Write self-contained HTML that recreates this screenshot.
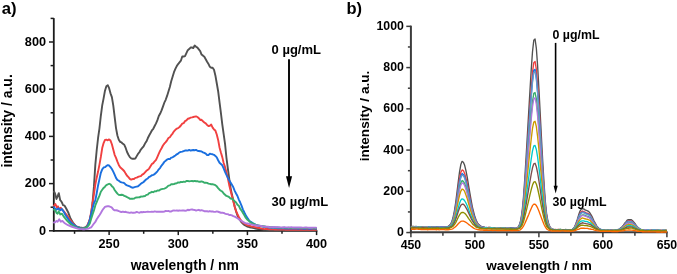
<!DOCTYPE html>
<html><head><meta charset="utf-8"><style>
html,body{margin:0;padding:0;background:#fff;}
body{width:677px;height:274px;overflow:hidden;}
svg{display:block;will-change:transform;}
</style></head><body>
<svg width="677" height="274" viewBox="0 0 677 274"><rect width="677" height="274" fill="#fff"/><g stroke="#1c1c1c" fill="none"><line x1="53.8" y1="18.10" x2="53.8" y2="231.70000000000002" stroke-width="1.8"/><line x1="52.9" y1="230.8" x2="317.32" y2="230.8" stroke-width="1.8"/><line x1="49.00" y1="230.80" x2="53.8" y2="230.80" stroke-width="1.5"/><line x1="50.60" y1="207.20" x2="53.8" y2="207.20" stroke-width="1.5"/><line x1="49.00" y1="183.60" x2="53.8" y2="183.60" stroke-width="1.5"/><line x1="50.60" y1="160.00" x2="53.8" y2="160.00" stroke-width="1.5"/><line x1="49.00" y1="136.40" x2="53.8" y2="136.40" stroke-width="1.5"/><line x1="50.60" y1="112.80" x2="53.8" y2="112.80" stroke-width="1.5"/><line x1="49.00" y1="89.20" x2="53.8" y2="89.20" stroke-width="1.5"/><line x1="50.60" y1="65.60" x2="53.8" y2="65.60" stroke-width="1.5"/><line x1="49.00" y1="42.00" x2="53.8" y2="42.00" stroke-width="1.5"/><line x1="50.60" y1="18.40" x2="53.8" y2="18.40" stroke-width="1.5"/><line x1="74.55" y1="230.8" x2="74.55" y2="233.80" stroke-width="1.5"/><line x1="109.12" y1="230.8" x2="109.12" y2="235.10" stroke-width="1.5"/><line x1="143.69" y1="230.8" x2="143.69" y2="233.80" stroke-width="1.5"/><line x1="178.27" y1="230.8" x2="178.27" y2="235.10" stroke-width="1.5"/><line x1="212.84" y1="230.8" x2="212.84" y2="233.80" stroke-width="1.5"/><line x1="247.42" y1="230.8" x2="247.42" y2="235.10" stroke-width="1.5"/><line x1="282.00" y1="230.8" x2="282.00" y2="233.80" stroke-width="1.5"/><line x1="316.57" y1="230.8" x2="316.57" y2="235.10" stroke-width="1.5"/></g><g stroke="#3c3c3c" fill="none"><line x1="410.9" y1="25.65" x2="410.9" y2="233.3" stroke-width="2"/><line x1="409.9" y1="232.3" x2="667.65" y2="232.3" stroke-width="2"/><line x1="406.30" y1="232.55" x2="410.9" y2="232.55" stroke-width="1.5"/><line x1="407.90" y1="211.93" x2="410.9" y2="211.93" stroke-width="1.5"/><line x1="406.30" y1="191.31" x2="410.9" y2="191.31" stroke-width="1.5"/><line x1="407.90" y1="170.69" x2="410.9" y2="170.69" stroke-width="1.5"/><line x1="406.30" y1="150.07" x2="410.9" y2="150.07" stroke-width="1.5"/><line x1="407.90" y1="129.45" x2="410.9" y2="129.45" stroke-width="1.5"/><line x1="406.30" y1="108.83" x2="410.9" y2="108.83" stroke-width="1.5"/><line x1="407.90" y1="88.21" x2="410.9" y2="88.21" stroke-width="1.5"/><line x1="406.30" y1="67.59" x2="410.9" y2="67.59" stroke-width="1.5"/><line x1="407.90" y1="46.97" x2="410.9" y2="46.97" stroke-width="1.5"/><line x1="406.30" y1="26.35" x2="410.9" y2="26.35" stroke-width="1.5"/><line x1="410.90" y1="232.3" x2="410.90" y2="237.30" stroke-width="1.5"/><line x1="442.90" y1="232.3" x2="442.90" y2="235.70" stroke-width="1.5"/><line x1="474.90" y1="232.3" x2="474.90" y2="237.30" stroke-width="1.5"/><line x1="506.90" y1="232.3" x2="506.90" y2="235.70" stroke-width="1.5"/><line x1="538.90" y1="232.3" x2="538.90" y2="237.30" stroke-width="1.5"/><line x1="570.90" y1="232.3" x2="570.90" y2="235.70" stroke-width="1.5"/><line x1="602.90" y1="232.3" x2="602.90" y2="237.30" stroke-width="1.5"/><line x1="634.90" y1="232.3" x2="634.90" y2="235.70" stroke-width="1.5"/><line x1="666.90" y1="232.3" x2="666.90" y2="237.30" stroke-width="1.5"/></g><g fill="none" stroke-width="1.9" stroke-linejoin="round" stroke-linecap="round"><polyline stroke="#515151" points="54.00,191.50 55.00,193.50 56.50,199.00 58.80,193.20 60.20,200.20 61.30,201.30 62.40,203.50 63.00,205.20 64.60,205.70 66.20,208.50 68.40,212.80 70.50,218.50 72.90,222.50 76.00,226.35 77.38,226.98 78.76,227.22 80.14,227.75 81.52,227.78 82.90,227.84 84.28,227.77 85.66,227.06 87.04,226.07 88.42,223.64 89.80,219.78 91.18,214.11 92.56,202.71 93.94,186.66 95.32,164.90 96.70,150.28 98.08,137.99 99.46,128.35 100.84,115.76 102.22,105.41 103.60,98.41 104.98,90.69 106.36,86.23 107.74,85.17 109.12,88.17 110.50,93.33 111.88,97.17 113.26,105.32 114.64,116.96 116.02,128.12 117.40,135.52 118.78,139.78 120.16,141.86 121.54,142.48 122.92,143.83 124.30,144.80 125.68,147.93 127.06,152.03 128.44,154.75 129.82,157.13 131.20,158.39 132.58,158.80 133.96,158.70 135.34,158.54 136.72,156.12 138.10,153.78 139.48,152.04 140.86,149.58 142.24,147.97 143.62,146.30 145.00,143.57 146.38,141.56 147.76,138.26 149.14,135.49 150.52,133.06 151.90,130.44 153.28,128.77 154.66,125.98 156.04,123.38 157.42,120.17 158.80,116.06 160.18,113.55 161.56,110.39 162.94,106.56 164.32,102.70 165.70,99.79 167.08,95.94 168.46,91.42 169.84,86.93 171.22,81.17 172.60,76.78 173.98,72.23 175.36,68.94 176.74,66.11 178.12,64.07 179.50,62.38 180.88,60.69 182.26,56.47 183.64,56.53 185.02,56.04 186.40,53.14 187.78,50.16 189.16,49.03 190.54,47.57 191.92,47.49 193.30,47.98 194.68,45.55 196.06,46.76 197.44,47.63 198.82,49.37 200.20,51.06 201.58,54.58 202.96,55.63 204.34,56.81 205.72,59.28 207.10,61.74 208.48,63.96 209.86,66.81 211.24,67.80 212.62,67.73 214.00,69.81 215.38,75.43 216.76,83.25 218.14,91.22 219.52,102.15 220.90,112.76 222.28,124.29 223.66,134.23 225.04,143.80 226.42,157.52 227.80,168.17 229.18,178.47 230.56,187.83 231.94,194.58 233.32,200.40 234.70,206.55 236.08,211.34 237.46,215.54 238.84,218.38 240.22,220.48 241.60,222.43 242.98,223.83 244.36,224.89 245.74,225.77 247.12,226.49 248.50,226.85 249.88,227.24 251.26,227.66 252.64,227.81 254.02,228.15 255.40,228.50 256.78,228.86 258.16,229.03 259.54,229.07 260.92,229.40 262.30,229.44 263.68,229.71 265.06,229.78 266.44,229.93 267.82,229.96 269.20,229.98 270.58,229.96 271.96,230.00 273.34,230.07 274.72,230.11 276.10,230.14 277.48,230.17 278.86,230.26 280.24,230.25 281.62,230.16 283.00,230.18 284.38,230.34 285.76,230.28 287.14,230.23 288.52,230.25 289.90,230.34 291.28,230.25 292.66,230.31 294.04,230.38 295.42,230.36 296.80,230.26 298.18,230.30 299.56,230.32 300.94,230.36 302.32,230.24 303.70,230.22 305.08,230.23 306.46,230.30 307.84,230.32 309.22,230.31 310.60,230.27 311.98,230.38 313.36,230.31 314.74,230.28 316.12,230.31"/><polyline stroke="#f14040" points="54.00,205.80 55.30,204.00 56.90,207.40 58.00,206.30 58.80,209.00 60.80,207.80 62.00,209.50 63.60,211.00 66.40,214.50 69.70,219.30 72.90,223.30 76.00,226.38 77.38,226.92 78.76,227.67 80.14,228.19 81.52,228.22 82.90,228.23 84.28,228.09 85.66,227.56 87.04,226.35 88.42,222.94 89.80,218.97 91.18,212.26 92.56,203.20 93.94,194.20 95.32,184.52 96.70,177.67 98.08,171.58 99.46,164.63 100.84,156.94 102.22,148.06 103.60,143.01 104.98,139.89 106.36,139.74 107.74,140.31 109.12,139.40 110.50,140.56 111.88,144.22 113.26,149.61 114.64,154.78 116.02,157.88 117.40,161.66 118.78,164.94 120.16,167.27 121.54,168.48 122.92,169.77 124.30,171.26 125.68,173.63 127.06,175.73 128.44,177.13 129.82,178.84 131.20,179.61 132.58,179.02 133.96,179.04 135.34,177.89 136.72,177.59 138.10,176.88 139.48,176.34 140.86,176.16 142.24,174.68 143.62,173.85 145.00,172.30 146.38,170.76 147.76,169.93 149.14,168.57 150.52,166.25 151.90,164.10 153.28,163.12 154.66,161.28 156.04,159.80 157.42,156.78 158.80,153.68 160.18,150.61 161.56,148.24 162.94,145.49 164.32,143.68 165.70,142.19 167.08,140.35 168.46,138.06 169.84,137.19 171.22,135.22 172.60,133.57 173.98,131.34 175.36,129.82 176.74,128.66 178.12,128.14 179.50,126.99 180.88,125.49 182.26,123.70 183.64,123.16 185.02,121.13 186.40,120.43 187.78,118.77 189.16,118.46 190.54,117.65 191.92,117.41 193.30,117.02 194.68,116.58 196.06,116.38 197.44,117.01 198.82,118.14 200.20,119.95 201.58,119.80 202.96,121.22 204.34,122.51 205.72,123.41 207.10,124.97 208.48,126.09 209.86,125.77 211.24,124.57 212.62,127.59 214.00,129.41 215.38,130.57 216.76,134.51 218.14,139.90 219.52,147.43 220.90,152.55 222.28,157.12 223.66,162.95 225.04,167.15 226.42,172.21 227.80,178.05 229.18,184.91 230.56,190.42 231.94,195.92 233.32,201.35 234.70,207.04 236.08,211.16 237.46,214.04 238.84,216.99 240.22,219.20 241.60,221.12 242.98,222.61 244.36,223.50 245.74,224.31 247.12,225.06 248.50,225.60 249.88,225.94 251.26,226.48 252.64,226.64 254.02,226.87 255.40,227.13 256.78,227.48 258.16,227.75 259.54,228.04 260.92,228.34 262.30,228.61 263.68,228.92 265.06,229.07 266.44,228.93 267.82,229.05 269.20,229.21 270.58,229.19 271.96,229.41 273.34,229.35 274.72,229.53 276.10,229.55 277.48,229.61 278.86,229.48 280.24,229.55 281.62,229.67 283.00,229.58 284.38,229.60 285.76,229.69 287.14,229.76 288.52,229.68 289.90,229.71 291.28,229.71 292.66,229.78 294.04,229.83 295.42,229.74 296.80,229.87 298.18,229.79 299.56,229.82 300.94,229.76 302.32,229.82 303.70,229.89 305.08,229.79 306.46,229.74 307.84,229.79 309.22,229.79 310.60,229.80 311.98,229.80 313.36,229.71 314.74,229.74 316.12,229.79"/><polyline stroke="#1a6fdf" points="54.00,207.30 56.40,209.80 58.60,208.30 60.20,210.30 61.90,209.00 64.00,212.30 65.60,215.30 68.90,220.10 72.10,223.60 76.00,226.44 77.38,227.12 78.76,227.60 80.14,228.21 81.52,228.37 82.90,228.44 84.28,228.22 85.66,227.79 87.04,226.90 88.42,223.97 89.80,219.74 91.18,213.83 92.56,208.20 93.94,203.23 95.32,200.38 96.70,193.22 98.08,185.43 99.46,179.12 100.84,172.78 102.22,169.32 103.60,167.53 104.98,167.16 106.36,166.01 107.74,165.09 109.12,165.53 110.50,167.20 111.88,169.01 113.26,171.59 114.64,174.65 116.02,177.89 117.40,179.99 118.78,180.66 120.16,181.76 121.54,182.37 122.92,182.59 124.30,183.12 125.68,184.58 127.06,185.31 128.44,185.87 129.82,186.41 131.20,187.24 132.58,187.72 133.96,187.32 135.34,186.95 136.72,186.58 138.10,186.22 139.48,185.11 140.86,183.81 142.24,182.83 143.62,181.98 145.00,180.49 146.38,179.28 147.76,178.49 149.14,176.90 150.52,176.33 151.90,175.26 153.28,174.79 154.66,174.06 156.04,172.74 157.42,171.31 158.80,169.32 160.18,167.85 161.56,165.62 162.94,163.89 164.32,161.90 165.70,160.72 167.08,159.53 168.46,158.99 169.84,159.12 171.22,157.63 172.60,157.34 173.98,156.36 175.36,155.51 176.74,154.33 178.12,153.56 179.50,152.39 180.88,151.94 182.26,151.61 183.64,151.08 185.02,150.56 186.40,150.35 187.78,150.57 189.16,149.94 190.54,150.67 191.92,150.26 193.30,149.99 194.68,150.21 196.06,149.85 197.44,150.77 198.82,151.00 200.20,151.20 201.58,151.43 202.96,152.36 204.34,152.94 205.72,153.68 207.10,155.03 208.48,155.10 209.86,153.60 211.24,154.08 212.62,154.31 214.00,154.79 215.38,155.91 216.76,157.31 218.14,160.24 219.52,162.78 220.90,164.05 222.28,165.31 223.66,168.34 225.04,171.82 226.42,174.80 227.80,177.57 229.18,180.22 230.56,182.41 231.94,184.84 233.32,187.21 234.70,190.93 236.08,193.54 237.46,195.99 238.84,199.55 240.22,202.48 241.60,205.96 242.98,209.56 244.36,212.47 245.74,215.22 247.12,217.39 248.50,219.50 249.88,221.22 251.26,222.06 252.64,222.95 254.02,223.75 255.40,224.47 256.78,225.26 258.16,225.55 259.54,225.97 260.92,226.07 262.30,226.38 263.68,226.79 265.06,227.06 266.44,227.08 267.82,227.19 269.20,227.59 270.58,227.58 271.96,227.80 273.34,227.74 274.72,227.98 276.10,228.11 277.48,228.18 278.86,228.18 280.24,228.36 281.62,228.24 283.00,228.30 284.38,228.35 285.76,228.48 287.14,228.32 288.52,228.52 289.90,228.52 291.28,228.58 292.66,228.46 294.04,228.44 295.42,228.47 296.80,228.63 298.18,228.68 299.56,228.64 300.94,228.60 302.32,228.56 303.70,228.70 305.08,228.72 306.46,228.54 307.84,228.58 309.22,228.73 310.60,228.75 311.98,228.63 313.36,228.63 314.74,228.67 316.12,228.71"/><polyline stroke="#37ad6b" points="54.00,209.70 55.00,209.90 56.50,212.90 57.60,213.70 58.70,211.30 60.30,214.50 62.00,213.70 64.00,216.90 67.20,220.90 70.50,224.10 74.50,226.50 76.00,227.36 77.38,227.91 78.76,228.39 80.14,228.47 81.52,228.60 82.90,228.40 84.28,228.38 85.66,227.92 87.04,227.15 88.42,225.63 89.80,223.51 91.18,218.83 92.56,214.42 93.94,210.43 95.32,205.45 96.70,202.20 98.08,198.76 99.46,195.65 100.84,191.71 102.22,189.79 103.60,187.92 104.98,186.70 106.36,185.02 107.74,184.41 109.12,183.76 110.50,184.40 111.88,186.19 113.26,187.40 114.64,189.98 116.02,191.81 117.40,193.62 118.78,194.87 120.16,194.94 121.54,194.73 122.92,195.02 124.30,195.89 125.68,196.46 127.06,197.19 128.44,197.76 129.82,198.86 131.20,198.61 132.58,198.76 133.96,198.65 135.34,197.66 136.72,197.54 138.10,197.39 139.48,197.31 140.86,196.56 142.24,196.61 143.62,196.30 145.00,196.09 146.38,194.90 147.76,194.56 149.14,193.11 150.52,192.62 151.90,191.82 153.28,192.19 154.66,191.28 156.04,191.35 157.42,190.51 158.80,190.66 160.18,189.72 161.56,189.19 162.94,188.90 164.32,188.65 165.70,188.00 167.08,186.92 168.46,185.57 169.84,185.36 171.22,184.20 172.60,184.22 173.98,184.13 175.36,183.44 176.74,183.27 178.12,182.40 179.50,182.63 180.88,181.89 182.26,182.14 183.64,181.65 185.02,181.92 186.40,180.96 187.78,180.89 189.16,181.39 190.54,181.09 191.92,181.04 193.30,181.22 194.68,180.84 196.06,181.28 197.44,181.08 198.82,181.77 200.20,181.71 201.58,181.36 202.96,181.84 204.34,182.74 205.72,182.58 207.10,182.86 208.48,183.61 209.86,183.94 211.24,184.29 212.62,184.30 214.00,184.57 215.38,185.20 216.76,186.30 218.14,188.11 219.52,189.65 220.90,190.77 222.28,191.56 223.66,193.53 225.04,194.73 226.42,195.93 227.80,196.45 229.18,197.11 230.56,198.55 231.94,198.71 233.32,199.81 234.70,201.20 236.08,202.40 237.46,204.66 238.84,205.83 240.22,208.80 241.60,210.59 242.98,213.08 244.36,215.28 245.74,217.65 247.12,219.50 248.50,220.56 249.88,221.76 251.26,222.98 252.64,223.40 254.02,224.23 255.40,224.62 256.78,225.10 258.16,225.39 259.54,225.62 260.92,226.13 262.30,226.31 263.68,226.27 265.06,226.48 266.44,226.83 267.82,226.91 269.20,227.04 270.58,227.23 271.96,227.19 273.34,227.43 274.72,227.45 276.10,227.49 277.48,227.47 278.86,227.61 280.24,227.77 281.62,227.86 283.00,227.63 284.38,227.67 285.76,227.85 287.14,227.90 288.52,227.72 289.90,227.94 291.28,227.94 292.66,227.94 294.04,227.87 295.42,227.92 296.80,227.92 298.18,228.06 299.56,227.95 300.94,227.96 302.32,228.13 303.70,228.13 305.08,228.15 306.46,228.12 307.84,227.94 309.22,227.95 310.60,228.08 311.98,228.16 313.36,228.18 314.74,228.13 316.12,228.22"/><polyline stroke="#b177de" points="54.00,222.50 55.00,222.30 56.50,220.90 57.60,221.70 59.20,219.30 60.80,221.70 62.40,220.90 64.80,223.30 68.00,225.20 71.30,226.50 75.30,227.80 76.00,227.96 77.38,228.56 78.76,228.86 80.14,229.16 81.52,229.15 82.90,229.26 84.28,229.32 85.66,229.10 87.04,228.87 88.42,228.54 89.80,227.91 91.18,227.34 92.56,225.53 93.94,223.54 95.32,221.94 96.70,219.27 98.08,217.15 99.46,215.18 100.84,213.01 102.22,210.59 103.60,208.51 104.98,206.95 106.36,206.45 107.74,206.16 109.12,206.28 110.50,206.78 111.88,207.62 113.26,209.43 114.64,210.38 116.02,210.24 117.40,210.50 118.78,211.02 120.16,211.79 121.54,212.02 122.92,211.52 124.30,212.14 125.68,211.78 127.06,212.34 128.44,212.55 129.82,212.90 131.20,212.36 132.58,212.80 133.96,212.74 135.34,212.67 136.72,211.92 138.10,212.35 139.48,212.72 140.86,212.06 142.24,212.26 143.62,211.96 145.00,212.08 146.38,211.84 147.76,211.66 149.14,211.92 150.52,211.91 151.90,211.62 153.28,211.82 154.66,211.38 156.04,211.68 157.42,211.60 158.80,211.68 160.18,211.76 161.56,211.80 162.94,211.72 164.32,211.57 165.70,210.86 167.08,211.16 168.46,210.98 169.84,211.53 171.22,211.55 172.60,210.64 173.98,210.52 175.36,210.58 176.74,210.36 178.12,210.77 179.50,210.33 180.88,210.57 182.26,210.41 183.64,210.44 185.02,210.70 186.40,210.64 187.78,209.74 189.16,210.23 190.54,209.67 191.92,209.48 193.30,209.78 194.68,209.99 196.06,210.54 197.44,210.10 198.82,209.81 200.20,210.65 201.58,210.10 202.96,210.58 204.34,211.18 205.72,211.16 207.10,211.24 208.48,211.65 209.86,211.07 211.24,211.56 212.62,211.42 214.00,211.92 215.38,211.89 216.76,211.44 218.14,211.76 219.52,212.26 220.90,212.73 222.28,212.68 223.66,212.95 225.04,213.65 226.42,214.12 227.80,214.14 229.18,214.97 230.56,215.03 231.94,215.31 233.32,216.08 234.70,216.62 236.08,217.44 237.46,218.32 238.84,219.17 240.22,220.21 241.60,221.05 242.98,221.89 244.36,222.60 245.74,223.35 247.12,223.45 248.50,223.70 249.88,224.10 251.26,224.42 252.64,224.79 254.02,225.20 255.40,225.17 256.78,225.49 258.16,225.78 259.54,225.76 260.92,225.93 262.30,226.23 263.68,226.42 265.06,226.77 266.44,226.66 267.82,226.76 269.20,227.04 270.58,227.11 271.96,227.09 273.34,227.22 274.72,227.01 276.10,227.32 277.48,227.24 278.86,227.21 280.24,227.40 281.62,227.36 283.00,227.47 284.38,227.23 285.76,227.38 287.14,227.36 288.52,227.43 289.90,227.33 291.28,227.28 292.66,227.44 294.04,227.40 295.42,227.56 296.80,227.46 298.18,227.46 299.56,227.53 300.94,227.52 302.32,227.66 303.70,227.63 305.08,227.56 306.46,227.50 307.84,227.62 309.22,227.68 310.60,227.70 311.98,227.78 313.36,227.59 314.74,227.66 316.12,227.68"/></g><g fill="none" stroke-width="1.35" stroke-linejoin="round"><polyline stroke="#515151" points="410.90,226.78 412.18,226.53 413.46,226.45 414.74,226.64 416.02,226.50 417.30,226.58 418.58,226.63 419.86,226.81 421.14,226.71 422.42,226.68 423.70,226.78 424.98,226.69 426.26,226.83 427.54,226.67 428.82,226.71 430.10,226.82 431.38,226.89 432.66,226.71 433.94,226.91 435.22,227.01 436.50,226.69 437.78,226.72 439.06,226.95 440.34,227.04 441.62,226.93 442.90,226.84 444.18,226.86 445.46,226.73 446.74,226.79 448.02,226.38 449.30,225.58 450.58,224.30 451.86,221.57 453.14,217.11 454.42,210.83 455.70,202.56 456.98,192.22 458.26,181.76 459.54,171.80 460.82,164.55 462.10,161.36 463.38,162.20 464.66,165.34 465.94,170.65 467.22,177.13 468.50,185.05 469.78,192.71 471.06,199.93 472.34,206.79 473.62,212.02 474.90,216.85 476.18,220.23 477.46,222.81 478.74,224.57 480.02,225.64 481.30,226.36 482.58,227.00 483.86,227.03 485.14,227.36 486.42,227.56 487.70,227.62 488.98,227.54 490.26,227.54 491.54,227.59 492.82,227.82 494.10,227.76 495.38,227.57 496.66,227.57 497.94,227.56 499.22,227.87 500.50,227.95 501.78,227.72 503.06,227.85 504.34,227.93 505.62,227.64 506.90,227.99 508.18,227.87 509.46,228.17 510.74,227.98 512.02,228.22 513.30,228.04 514.58,228.08 515.86,228.33 517.14,227.73 518.42,226.67 519.70,224.09 520.98,219.11 522.26,210.34 523.54,196.57 524.82,178.18 526.10,157.16 527.38,134.96 528.66,112.72 529.94,91.10 531.22,69.73 532.50,51.71 533.78,40.26 535.06,38.98 536.34,48.26 537.62,66.03 538.90,88.49 540.18,113.08 541.46,138.04 542.74,161.49 544.02,183.40 545.30,201.33 546.58,213.55 547.86,220.87 549.14,225.10 550.42,227.72 551.70,229.00 552.98,229.27 554.26,229.46 555.54,229.61 556.82,229.55 558.10,229.70 559.38,229.39 560.66,229.52 561.94,229.86 563.22,229.65 564.50,229.84 565.78,229.41 567.06,229.85 568.34,229.82 569.62,229.73 570.90,229.87 572.18,229.39 573.46,228.70 574.74,226.59 576.02,223.33 577.30,219.44 578.58,215.08 579.86,211.42 581.14,209.35 582.42,208.69 583.70,208.90 584.98,209.93 586.26,210.39 587.54,210.86 588.82,211.67 590.10,213.29 591.38,215.43 592.66,217.90 593.94,220.80 595.22,223.08 596.50,225.52 597.78,227.33 599.06,228.45 600.34,229.27 601.62,229.81 602.90,229.72 604.18,230.08 605.46,230.01 606.74,230.05 608.02,230.14 609.30,230.25 610.58,229.91 611.86,230.20 613.14,229.96 614.42,230.08 615.70,229.96 616.98,229.83 618.26,229.33 619.54,229.04 620.82,227.72 622.10,226.91 623.38,225.16 624.66,223.29 625.94,221.88 627.22,220.19 628.50,219.56 629.78,219.77 631.06,219.63 632.34,220.51 633.62,221.95 634.90,223.43 636.18,225.31 637.46,226.86 638.74,228.10 640.02,229.08 641.30,229.56 642.58,229.89 643.86,230.03 645.14,230.33 646.42,230.11 647.70,230.32 648.98,230.39 650.26,230.39 651.54,230.24 652.82,230.28 654.10,230.12 655.38,230.28 656.66,230.21 657.94,230.10 659.22,230.42 660.50,230.29 661.78,230.40 663.06,230.26 664.34,230.47 665.62,230.20 666.90,230.33"/><polyline stroke="#f14040" points="410.90,226.43 412.18,226.70 413.46,226.68 414.74,226.75 416.02,226.75 417.30,226.88 418.58,226.96 419.86,226.80 421.14,227.14 422.42,226.82 423.70,226.86 424.98,227.01 426.26,226.93 427.54,227.06 428.82,227.10 430.10,226.89 431.38,227.00 432.66,226.79 433.94,226.73 435.22,226.98 436.50,227.04 437.78,226.89 439.06,227.32 440.34,227.27 441.62,227.16 442.90,227.10 444.18,227.12 445.46,227.08 446.74,226.87 448.02,226.65 449.30,225.90 450.58,224.64 451.86,222.44 453.14,218.75 454.42,213.29 455.70,205.77 456.98,196.99 458.26,187.31 459.54,178.86 460.82,172.33 462.10,169.99 463.38,170.56 464.66,173.54 465.94,177.98 467.22,183.71 468.50,190.45 469.78,197.19 471.06,203.56 472.34,209.15 473.62,214.38 474.90,218.34 476.18,221.30 477.46,223.45 478.74,225.08 480.02,225.99 481.30,226.60 482.58,227.26 483.86,227.16 485.14,227.68 486.42,227.56 487.70,227.64 488.98,227.46 490.26,227.79 491.54,227.74 492.82,227.70 494.10,227.67 495.38,227.82 496.66,227.59 497.94,227.97 499.22,227.95 500.50,227.86 501.78,228.02 503.06,228.14 504.34,227.82 505.62,227.92 506.90,228.35 508.18,228.00 509.46,228.01 510.74,228.33 512.02,228.08 513.30,228.46 514.58,228.37 515.86,228.31 517.14,227.98 518.42,227.03 519.70,224.75 520.98,220.45 522.26,212.41 523.54,200.30 524.82,184.14 526.10,165.54 527.38,145.93 528.66,126.56 529.94,107.43 531.22,88.73 532.50,72.46 533.78,62.71 535.06,61.46 536.34,69.44 537.62,85.12 538.90,104.69 540.18,126.80 541.46,148.67 542.74,169.70 544.02,188.83 545.30,204.70 546.58,215.61 547.86,221.95 549.14,225.83 550.42,227.90 551.70,228.93 552.98,229.35 554.26,229.65 555.54,229.45 556.82,229.58 558.10,229.54 559.38,229.56 560.66,229.75 561.94,229.62 563.22,229.82 564.50,229.67 565.78,229.96 567.06,229.69 568.34,229.78 569.62,230.00 570.90,229.75 572.18,229.69 573.46,228.65 574.74,227.12 576.02,223.97 577.30,220.49 578.58,216.87 579.86,213.76 581.14,211.91 582.42,211.02 583.70,211.61 584.98,212.22 586.26,212.84 587.54,213.23 588.82,213.91 590.10,215.13 591.38,217.06 592.66,219.50 593.94,221.82 595.22,224.24 596.50,226.14 597.78,227.62 599.06,228.78 600.34,229.58 601.62,229.61 602.90,230.21 604.18,230.32 605.46,230.01 606.74,230.10 608.02,230.13 609.30,230.27 610.58,230.37 611.86,230.22 613.14,230.19 614.42,230.14 615.70,230.05 616.98,229.74 618.26,229.72 619.54,229.31 620.82,228.34 622.10,227.42 623.38,226.18 624.66,224.09 625.94,222.69 627.22,221.51 628.50,220.96 629.78,220.67 631.06,220.83 632.34,221.54 633.62,222.94 634.90,224.65 636.18,226.03 637.46,227.45 638.74,228.13 640.02,229.27 641.30,229.82 642.58,230.19 643.86,230.08 645.14,230.48 646.42,230.26 647.70,230.33 648.98,230.40 650.26,230.08 651.54,230.46 652.82,230.34 654.10,230.56 655.38,230.52 656.66,230.33 657.94,230.52 659.22,230.44 660.50,230.36 661.78,230.44 663.06,230.51 664.34,230.45 665.62,230.73 666.90,230.51"/><polyline stroke="#1a6fdf" points="410.90,226.56 412.18,226.67 413.46,226.67 414.74,226.92 416.02,226.67 417.30,226.80 418.58,226.92 419.86,226.99 421.14,226.91 422.42,227.18 423.70,226.80 424.98,226.94 426.26,227.01 427.54,227.11 428.82,227.06 430.10,226.87 431.38,227.23 432.66,227.02 433.94,227.11 435.22,227.06 436.50,226.90 437.78,227.03 439.06,227.21 440.34,227.21 441.62,227.03 442.90,227.13 444.18,227.45 445.46,227.05 446.74,226.90 448.02,226.69 449.30,226.10 450.58,224.81 451.86,222.57 453.14,218.79 454.42,214.15 455.70,207.23 456.98,199.15 458.26,189.91 459.54,181.95 460.82,176.18 462.10,173.41 463.38,174.42 464.66,176.77 465.94,181.21 467.22,186.44 468.50,192.71 469.78,199.00 471.06,205.18 472.34,210.70 473.62,215.01 474.90,218.67 476.18,221.76 477.46,223.89 478.74,225.12 480.02,226.16 481.30,226.75 482.58,227.30 483.86,227.28 485.14,227.71 486.42,227.45 487.70,227.71 488.98,227.73 490.26,227.77 491.54,228.03 492.82,227.98 494.10,227.96 495.38,227.88 496.66,227.83 497.94,227.91 499.22,227.91 500.50,227.81 501.78,227.80 503.06,227.95 504.34,228.14 505.62,228.14 506.90,227.96 508.18,228.34 509.46,228.33 510.74,228.19 512.02,228.19 513.30,228.33 514.58,228.34 515.86,228.27 517.14,228.16 518.42,227.27 519.70,224.81 520.98,220.64 522.26,213.29 523.54,201.88 524.82,186.23 526.10,168.44 527.38,150.12 528.66,131.43 529.94,112.85 531.22,95.43 532.50,80.04 533.78,70.38 535.06,69.38 536.34,77.09 537.62,91.86 538.90,110.75 540.18,131.53 541.46,152.17 542.74,172.25 544.02,190.78 545.30,205.81 546.58,216.07 547.86,222.19 549.14,226.23 550.42,228.03 551.70,229.12 552.98,229.39 554.26,229.57 555.54,229.68 556.82,229.82 558.10,229.58 559.38,229.58 560.66,229.74 561.94,229.70 563.22,229.80 564.50,229.81 565.78,229.65 567.06,229.73 568.34,229.89 569.62,229.69 570.90,229.62 572.18,229.58 573.46,228.88 574.74,227.21 576.02,224.43 577.30,221.06 578.58,217.24 579.86,214.32 581.14,212.83 582.42,212.06 583.70,212.50 584.98,212.98 586.26,213.61 587.54,214.03 588.82,214.54 590.10,215.87 591.38,218.16 592.66,219.91 593.94,222.32 595.22,224.66 596.50,226.24 597.78,227.59 599.06,228.72 600.34,229.27 601.62,229.60 602.90,230.00 604.18,230.15 605.46,230.04 606.74,230.06 608.02,230.39 609.30,230.04 610.58,230.36 611.86,230.03 613.14,230.07 614.42,230.13 615.70,229.96 616.98,230.07 618.26,229.80 619.54,229.02 620.82,228.32 622.10,227.32 623.38,226.12 624.66,224.62 625.94,223.05 627.22,221.75 628.50,221.53 629.78,221.36 631.06,221.39 632.34,222.26 633.62,223.53 634.90,224.79 636.18,226.26 637.46,227.36 638.74,228.38 640.02,229.12 641.30,229.65 642.58,229.71 643.86,230.12 645.14,230.42 646.42,230.35 647.70,230.16 648.98,230.27 650.26,230.33 651.54,230.18 652.82,230.36 654.10,230.26 655.38,230.46 656.66,230.37 657.94,230.34 659.22,230.54 660.50,230.65 661.78,230.63 663.06,230.58 664.34,230.35 665.62,230.51 666.90,230.45"/><polyline stroke="#6699cc" points="410.90,227.12 412.18,227.02 413.46,226.95 414.74,227.06 416.02,227.16 417.30,226.76 418.58,227.01 419.86,227.02 421.14,227.21 422.42,227.18 423.70,227.05 424.98,227.15 426.26,227.03 427.54,226.97 428.82,227.33 430.10,227.37 431.38,227.08 432.66,227.23 433.94,227.16 435.22,227.10 436.50,227.12 437.78,227.51 439.06,227.23 440.34,227.13 441.62,227.36 442.90,227.44 444.18,227.45 445.46,227.27 446.74,227.25 448.02,226.91 449.30,226.43 450.58,225.06 451.86,223.12 453.14,219.84 454.42,214.51 455.70,208.01 456.98,199.92 458.26,191.26 459.54,183.42 460.82,177.62 462.10,175.09 463.38,175.62 464.66,178.26 465.94,182.52 467.22,188.00 468.50,193.89 469.78,200.03 471.06,205.73 472.34,211.25 473.62,215.92 474.90,219.32 476.18,222.06 477.46,224.28 478.74,225.47 480.02,226.40 481.30,226.95 482.58,227.42 483.86,227.53 485.14,227.85 486.42,227.79 487.70,227.78 488.98,227.93 490.26,228.03 491.54,228.02 492.82,227.82 494.10,227.78 495.38,227.92 496.66,227.79 497.94,228.01 499.22,227.92 500.50,228.06 501.78,227.96 503.06,228.07 504.34,228.21 505.62,228.21 506.90,228.01 508.18,228.19 509.46,228.48 510.74,228.42 512.02,228.42 513.30,228.49 514.58,228.40 515.86,228.55 517.14,228.21 518.42,227.30 519.70,225.02 520.98,221.14 522.26,213.72 523.54,202.44 524.82,186.85 526.10,169.41 527.38,151.26 528.66,132.92 529.94,115.05 531.22,97.30 532.50,82.31 533.78,72.53 535.06,71.66 536.34,79.15 537.62,93.65 538.90,112.63 540.18,133.09 541.46,153.60 542.74,173.22 544.02,191.22 545.30,206.34 546.58,216.49 547.86,222.74 549.14,225.89 550.42,228.08 551.70,228.76 552.98,229.58 554.26,229.63 555.54,229.74 556.82,229.66 558.10,229.75 559.38,229.65 560.66,229.81 561.94,229.85 563.22,229.94 564.50,229.87 565.78,229.95 567.06,229.90 568.34,229.94 569.62,229.80 570.90,229.73 572.18,229.83 573.46,228.98 574.74,227.35 576.02,224.81 577.30,221.38 578.58,217.42 579.86,214.71 581.14,213.34 582.42,212.45 583.70,212.58 584.98,213.36 586.26,214.05 587.54,214.30 588.82,215.05 590.10,215.92 591.38,217.80 592.66,220.38 593.94,222.51 595.22,224.71 596.50,226.67 597.78,227.98 599.06,228.93 600.34,229.75 601.62,229.92 602.90,230.17 604.18,230.23 605.46,230.03 606.74,230.37 608.02,230.35 609.30,230.20 610.58,230.30 611.86,230.21 613.14,230.36 614.42,230.18 615.70,229.94 616.98,230.11 618.26,229.80 619.54,229.12 620.82,228.46 622.10,227.57 623.38,226.27 624.66,224.78 625.94,223.20 627.22,222.04 628.50,221.76 629.78,221.62 631.06,221.76 632.34,222.32 633.62,223.63 634.90,224.80 636.18,226.25 637.46,227.29 638.74,228.48 640.02,229.11 641.30,230.00 642.58,230.08 643.86,230.43 645.14,230.03 646.42,230.27 647.70,230.31 648.98,230.63 650.26,230.67 651.54,230.49 652.82,230.47 654.10,230.87 655.38,230.54 656.66,230.61 657.94,230.69 659.22,230.41 660.50,230.56 661.78,230.65 663.06,230.50 664.34,230.53 665.62,230.56 666.90,230.58"/><polyline stroke="#37ad6b" points="410.90,227.23 412.18,227.26 413.46,227.28 414.74,227.10 416.02,227.16 417.30,227.33 418.58,227.00 419.86,227.30 421.14,227.33 422.42,227.30 423.70,227.20 424.98,227.40 426.26,227.54 427.54,227.41 428.82,227.29 430.10,227.41 431.38,227.35 432.66,227.50 433.94,227.40 435.22,227.55 436.50,227.34 437.78,227.32 439.06,227.70 440.34,227.57 441.62,227.60 442.90,227.61 444.18,227.65 445.46,227.49 446.74,227.24 448.02,226.93 449.30,226.61 450.58,225.49 451.86,223.45 453.14,220.45 454.42,216.17 455.70,210.12 456.98,202.76 458.26,195.08 459.54,188.18 460.82,182.98 462.10,180.55 463.38,181.35 464.66,183.66 465.94,187.33 467.22,192.15 468.50,197.62 469.78,203.12 471.06,208.35 472.34,213.14 473.62,217.01 474.90,220.56 476.18,222.69 477.46,224.46 478.74,225.77 480.02,226.96 481.30,227.32 482.58,227.57 483.86,227.67 485.14,227.89 486.42,227.99 487.70,228.10 488.98,228.04 490.26,228.04 491.54,228.26 492.82,228.17 494.10,227.95 495.38,228.25 496.66,228.05 497.94,228.00 499.22,228.10 500.50,228.28 501.78,228.15 503.06,228.32 504.34,228.37 505.62,228.44 506.90,228.51 508.18,228.39 509.46,228.49 510.74,228.48 512.02,228.55 513.30,228.52 514.58,228.71 515.86,228.47 517.14,228.52 518.42,227.57 519.70,225.77 520.98,222.20 522.26,215.86 523.54,205.82 524.82,192.65 526.10,177.46 527.38,161.44 528.66,145.69 529.94,129.93 531.22,114.91 532.50,101.70 533.78,93.31 535.06,92.51 536.34,99.00 537.62,111.69 538.90,128.16 540.18,145.67 541.46,163.59 542.74,181.02 544.02,196.39 545.30,209.23 546.58,218.16 547.86,223.47 549.14,226.66 550.42,228.33 551.70,229.27 552.98,229.47 554.26,229.66 555.54,229.74 556.82,229.75 558.10,229.88 559.38,229.87 560.66,229.49 561.94,229.86 563.22,230.16 564.50,230.10 565.78,229.82 567.06,229.98 568.34,230.00 569.62,230.03 570.90,230.07 572.18,230.00 573.46,229.07 574.74,227.72 576.02,225.53 577.30,222.31 578.58,219.18 579.86,217.07 581.14,215.64 582.42,214.83 583.70,214.99 584.98,215.44 586.26,216.00 587.54,216.47 588.82,216.96 590.10,217.94 591.38,219.77 592.66,221.67 593.94,223.55 595.22,225.56 596.50,227.08 597.78,228.22 599.06,229.06 600.34,229.73 601.62,230.19 602.90,230.25 604.18,230.21 605.46,230.50 606.74,230.38 608.02,230.09 609.30,230.45 610.58,230.43 611.86,230.62 613.14,230.51 614.42,230.11 615.70,230.32 616.98,230.24 618.26,229.96 619.54,229.66 620.82,228.75 622.10,228.02 623.38,226.94 624.66,225.71 625.94,224.33 627.22,223.31 628.50,222.66 629.78,222.69 631.06,222.78 632.34,223.30 633.62,224.41 634.90,225.72 636.18,226.87 637.46,228.04 638.74,228.71 640.02,229.39 641.30,229.91 642.58,230.42 643.86,230.47 645.14,230.42 646.42,230.65 647.70,230.51 648.98,230.42 650.26,230.64 651.54,230.71 652.82,230.44 654.10,230.58 655.38,230.51 656.66,230.67 657.94,230.35 659.22,230.43 660.50,230.59 661.78,230.38 663.06,230.60 664.34,230.48 665.62,230.52 666.90,230.81"/><polyline stroke="#b177de" points="410.90,227.21 412.18,227.26 413.46,227.29 414.74,227.21 416.02,227.11 417.30,227.26 418.58,227.45 419.86,227.22 421.14,227.36 422.42,227.33 423.70,227.11 424.98,227.02 426.26,227.28 427.54,227.25 428.82,227.55 430.10,227.22 431.38,227.57 432.66,227.41 433.94,227.35 435.22,227.49 436.50,227.66 437.78,227.45 439.06,227.39 440.34,227.72 441.62,227.54 442.90,227.36 444.18,227.30 445.46,227.31 446.74,227.32 448.02,227.08 449.30,226.62 450.58,225.37 451.86,223.99 453.14,220.92 454.42,216.58 455.70,210.90 456.98,204.21 458.26,196.67 459.54,189.94 460.82,185.14 462.10,182.97 463.38,183.45 464.66,185.77 465.94,189.22 467.22,193.58 468.50,199.09 469.78,204.25 471.06,209.07 472.34,213.88 473.62,217.68 474.90,220.62 476.18,223.05 477.46,224.55 478.74,225.92 480.02,226.63 481.30,227.46 482.58,227.89 483.86,227.65 485.14,227.99 486.42,228.15 487.70,228.00 488.98,228.16 490.26,228.34 491.54,228.31 492.82,228.16 494.10,228.37 495.38,228.32 496.66,227.84 497.94,228.18 499.22,228.12 500.50,228.11 501.78,228.44 503.06,228.53 504.34,228.30 505.62,228.57 506.90,228.11 508.18,228.17 509.46,228.50 510.74,228.66 512.02,228.55 513.30,228.37 514.58,228.42 515.86,228.42 517.14,228.33 518.42,227.70 519.70,225.88 520.98,222.51 522.26,216.31 523.54,206.93 524.82,194.10 526.10,179.46 527.38,164.07 528.66,148.90 529.94,133.77 531.22,119.30 532.50,106.58 533.78,98.70 535.06,97.85 536.34,104.24 537.62,116.08 538.90,131.86 540.18,148.86 541.46,166.33 542.74,182.58 544.02,197.85 545.30,210.31 546.58,218.76 547.86,223.83 549.14,226.70 550.42,228.35 551.70,229.38 552.98,229.46 554.26,229.65 555.54,229.76 556.82,229.61 558.10,229.75 559.38,229.74 560.66,229.97 561.94,229.82 563.22,229.70 564.50,229.96 565.78,229.98 567.06,230.18 568.34,229.92 569.62,229.78 570.90,229.98 572.18,229.95 573.46,229.39 574.74,227.97 576.02,225.40 577.30,222.72 578.58,219.66 579.86,217.73 581.14,215.98 582.42,215.30 583.70,215.57 584.98,216.18 586.26,216.47 587.54,217.04 588.82,217.71 590.10,218.38 591.38,220.13 592.66,221.86 593.94,223.68 595.22,225.68 596.50,227.07 597.78,228.54 599.06,229.26 600.34,229.89 601.62,229.97 602.90,230.12 604.18,230.41 605.46,230.54 606.74,230.53 608.02,230.37 609.30,230.23 610.58,230.21 611.86,230.28 613.14,230.28 614.42,230.34 615.70,230.09 616.98,230.06 618.26,229.66 619.54,229.46 620.82,228.99 622.10,228.00 623.38,226.77 624.66,225.59 625.94,224.37 627.22,223.32 628.50,222.98 629.78,223.14 631.06,223.19 632.34,223.73 633.62,224.76 634.90,226.12 636.18,227.11 637.46,228.05 638.74,228.98 640.02,229.43 641.30,229.74 642.58,230.45 643.86,230.38 645.14,230.19 646.42,230.40 647.70,230.43 648.98,230.41 650.26,230.39 651.54,230.58 652.82,230.44 654.10,230.46 655.38,230.47 656.66,230.57 657.94,230.55 659.22,230.71 660.50,230.69 661.78,230.38 663.06,230.46 664.34,230.72 665.62,230.79 666.90,230.45"/><polyline stroke="#cc9900" points="410.90,227.11 412.18,227.51 413.46,227.35 414.74,227.34 416.02,227.58 417.30,227.52 418.58,227.43 419.86,227.46 421.14,227.30 422.42,227.50 423.70,227.70 424.98,227.54 426.26,227.36 427.54,227.81 428.82,227.54 430.10,227.89 431.38,227.46 432.66,227.57 433.94,227.72 435.22,227.76 436.50,227.91 437.78,227.79 439.06,227.72 440.34,227.76 441.62,227.64 442.90,227.79 444.18,227.73 445.46,227.60 446.74,227.60 448.02,227.45 449.30,227.03 450.58,225.99 451.86,224.70 453.14,222.03 454.42,218.31 455.70,213.69 456.98,207.32 458.26,201.08 459.54,195.30 460.82,191.12 462.10,189.05 463.38,189.71 464.66,191.43 465.94,195.00 467.22,198.61 468.50,203.27 469.78,207.57 471.06,212.11 472.34,215.91 473.62,219.34 474.90,222.09 476.18,223.71 477.46,225.53 478.74,226.34 480.02,227.14 481.30,227.69 482.58,227.80 483.86,228.04 485.14,228.21 486.42,228.23 487.70,228.12 488.98,228.10 490.26,228.33 491.54,228.33 492.82,228.33 494.10,228.37 495.38,228.26 496.66,228.38 497.94,228.39 499.22,228.55 500.50,228.22 501.78,228.38 503.06,228.40 504.34,228.53 505.62,228.35 506.90,228.66 508.18,228.54 509.46,228.59 510.74,228.60 512.02,228.70 513.30,228.93 514.58,228.97 515.86,228.64 517.14,228.47 518.42,228.05 519.70,226.53 520.98,223.79 522.26,218.93 523.54,210.84 524.82,200.34 526.10,188.25 527.38,175.96 528.66,163.22 529.94,150.80 531.22,139.00 532.50,128.41 533.78,122.05 535.06,121.31 536.34,126.63 537.62,136.63 538.90,149.24 540.18,163.33 541.46,177.68 542.74,190.97 544.02,203.67 545.30,213.68 546.58,220.79 547.86,224.79 549.14,227.46 550.42,228.99 551.70,229.44 552.98,229.71 554.26,229.92 555.54,229.73 556.82,229.81 558.10,230.04 559.38,230.04 560.66,230.01 561.94,229.85 563.22,229.83 564.50,229.98 565.78,230.04 567.06,230.18 568.34,229.93 569.62,230.23 570.90,229.83 572.18,230.00 573.46,229.52 574.74,228.39 576.02,226.25 577.30,224.22 578.58,221.64 579.86,219.78 581.14,218.65 582.42,217.97 583.70,218.37 584.98,218.75 586.26,219.19 587.54,219.29 588.82,219.78 590.10,220.54 591.38,222.05 592.66,223.36 593.94,224.86 595.22,226.44 596.50,227.48 597.78,228.46 599.06,229.63 600.34,229.91 601.62,230.23 602.90,230.41 604.18,230.41 605.46,230.36 606.74,230.51 608.02,230.36 609.30,230.47 610.58,230.59 611.86,230.30 613.14,230.27 614.42,230.34 615.70,230.43 616.98,230.10 618.26,230.07 619.54,229.67 620.82,229.28 622.10,228.26 623.38,227.54 624.66,226.50 625.94,225.58 627.22,224.78 628.50,224.26 629.78,224.62 631.06,224.51 632.34,225.08 633.62,225.92 634.90,226.76 636.18,227.75 637.46,228.61 638.74,229.36 640.02,229.67 641.30,229.93 642.58,230.10 643.86,230.41 645.14,230.61 646.42,230.77 647.70,230.82 648.98,230.66 650.26,230.75 651.54,230.35 652.82,230.64 654.10,230.88 655.38,230.82 656.66,230.68 657.94,230.87 659.22,230.59 660.50,230.62 661.78,230.82 663.06,230.75 664.34,230.79 665.62,230.51 666.90,230.53"/><polyline stroke="#00cbcc" points="410.90,227.32 412.18,227.47 413.46,227.59 414.74,227.38 416.02,227.55 417.30,227.50 418.58,227.51 419.86,227.49 421.14,227.42 422.42,227.69 423.70,227.63 424.98,227.46 426.26,227.73 427.54,227.57 428.82,227.51 430.10,227.53 431.38,227.59 432.66,227.73 433.94,227.64 435.22,227.75 436.50,227.69 437.78,227.97 439.06,227.90 440.34,227.73 441.62,227.62 442.90,227.74 444.18,227.61 445.46,227.71 446.74,227.36 448.02,227.41 449.30,227.02 450.58,226.65 451.86,225.13 453.14,223.43 454.42,220.66 455.70,217.05 456.98,212.48 458.26,207.81 459.54,203.23 460.82,200.11 462.10,198.84 463.38,199.30 464.66,200.77 465.94,203.02 467.22,205.78 468.50,209.33 469.78,212.91 471.06,215.95 472.34,219.06 473.62,221.57 474.90,223.43 476.18,225.04 477.46,226.04 478.74,226.91 480.02,227.49 481.30,227.64 482.58,227.99 483.86,228.07 485.14,227.95 486.42,228.17 487.70,228.10 488.98,228.31 490.26,228.20 491.54,228.24 492.82,228.12 494.10,228.39 495.38,228.25 496.66,228.60 497.94,228.45 499.22,228.48 500.50,228.33 501.78,228.54 503.06,228.39 504.34,228.31 505.62,228.67 506.90,228.71 508.18,228.38 509.46,228.67 510.74,228.66 512.02,228.76 513.30,228.75 514.58,228.73 515.86,228.90 517.14,228.68 518.42,228.34 519.70,226.73 520.98,224.66 522.26,221.09 523.54,215.10 524.82,206.64 526.10,197.35 527.38,187.79 528.66,178.00 529.94,168.28 531.22,159.00 532.50,150.81 533.78,145.80 535.06,145.53 536.34,149.51 537.62,157.09 538.90,167.39 540.18,178.12 541.46,189.07 542.74,199.63 544.02,209.45 545.30,217.06 546.58,222.86 547.86,226.01 549.14,227.96 550.42,229.09 551.70,229.46 552.98,229.76 554.26,229.78 555.54,229.90 556.82,229.67 558.10,230.13 559.38,229.77 560.66,230.23 561.94,230.23 563.22,230.01 564.50,230.02 565.78,229.82 567.06,230.35 568.34,230.00 569.62,230.24 570.90,230.13 572.18,229.96 573.46,229.54 574.74,228.75 576.02,227.13 577.30,225.68 578.58,223.49 579.86,222.07 581.14,221.17 582.42,220.80 583.70,220.81 584.98,221.31 586.26,221.45 587.54,221.75 588.82,222.41 590.10,222.85 591.38,223.82 592.66,225.12 593.94,226.19 595.22,227.41 596.50,228.35 597.78,229.41 599.06,229.71 600.34,230.08 601.62,230.24 602.90,230.22 604.18,230.41 605.46,230.57 606.74,230.32 608.02,230.34 609.30,230.47 610.58,230.53 611.86,230.58 613.14,230.35 614.42,230.42 615.70,230.47 616.98,230.08 618.26,230.10 619.54,229.90 620.82,229.50 622.10,228.94 623.38,228.44 624.66,227.73 625.94,227.06 627.22,225.99 628.50,225.63 629.78,225.76 631.06,225.79 632.34,226.08 633.62,226.63 634.90,227.66 636.18,228.41 637.46,229.05 638.74,229.39 640.02,229.98 641.30,230.25 642.58,230.38 643.86,230.52 645.14,230.58 646.42,230.58 647.70,230.47 648.98,230.49 650.26,230.76 651.54,230.58 652.82,230.51 654.10,230.50 655.38,230.53 656.66,230.56 657.94,230.68 659.22,230.36 660.50,230.67 661.78,230.75 663.06,230.51 664.34,230.60 665.62,230.60 666.90,230.79"/><polyline stroke="#7d4e4e" points="410.90,227.92 412.18,227.77 413.46,227.68 414.74,227.69 416.02,227.91 417.30,227.84 418.58,227.93 419.86,228.12 421.14,227.88 422.42,227.79 423.70,227.76 424.98,227.84 426.26,228.01 427.54,227.99 428.82,228.08 430.10,227.93 431.38,228.14 432.66,227.94 433.94,227.84 435.22,227.88 436.50,228.02 437.78,227.84 439.06,228.03 440.34,228.11 441.62,228.05 442.90,228.13 444.18,228.12 445.46,227.98 446.74,227.96 448.02,227.94 449.30,227.49 450.58,226.91 451.86,226.32 453.14,224.59 454.42,222.41 455.70,219.22 456.98,215.44 458.26,211.48 459.54,208.00 460.82,205.34 462.10,204.18 463.38,204.29 464.66,205.48 465.94,207.68 467.22,209.87 468.50,212.66 469.78,215.45 471.06,218.32 472.34,220.66 473.62,222.71 474.90,224.56 476.18,225.84 477.46,226.76 478.74,227.52 480.02,227.91 481.30,227.97 482.58,228.16 483.86,228.61 485.14,228.56 486.42,228.55 487.70,228.50 488.98,228.47 490.26,228.55 491.54,228.71 492.82,228.62 494.10,228.45 495.38,228.63 496.66,228.81 497.94,228.57 499.22,228.63 500.50,228.52 501.78,228.70 503.06,228.69 504.34,228.81 505.62,228.93 506.90,228.91 508.18,228.88 509.46,229.05 510.74,228.92 512.02,228.87 513.30,229.11 514.58,229.00 515.86,229.10 517.14,229.00 518.42,228.41 519.70,227.80 520.98,226.14 522.26,222.93 523.54,218.12 524.82,211.69 526.10,204.64 527.38,196.56 528.66,189.12 529.94,181.33 531.22,174.23 532.50,167.80 533.78,163.80 535.06,163.26 536.34,166.74 537.62,172.76 538.90,180.74 540.18,189.21 541.46,198.03 542.74,206.30 544.02,213.73 545.30,220.10 546.58,224.29 547.86,226.87 549.14,228.41 550.42,229.38 551.70,229.63 552.98,230.19 554.26,229.77 555.54,230.33 556.82,230.08 558.10,230.21 559.38,230.24 560.66,230.32 561.94,230.25 563.22,229.96 564.50,230.17 565.78,230.22 567.06,230.20 568.34,230.24 569.62,230.08 570.90,230.24 572.18,230.15 573.46,229.82 574.74,229.29 576.02,228.19 577.30,226.68 578.58,225.24 579.86,224.12 581.14,223.40 582.42,222.75 583.70,223.20 584.98,223.40 586.26,223.69 587.54,223.80 588.82,224.08 590.10,224.53 591.38,225.14 592.66,226.29 593.94,227.11 595.22,228.20 596.50,228.69 597.78,229.33 599.06,229.85 600.34,230.12 601.62,230.43 602.90,230.48 604.18,230.49 605.46,230.57 606.74,230.62 608.02,230.53 609.30,230.74 610.58,230.53 611.86,230.51 613.14,230.55 614.42,230.70 615.70,230.48 616.98,230.39 618.26,230.23 619.54,230.18 620.82,229.91 622.10,229.35 623.38,228.76 624.66,228.47 625.94,227.52 627.22,227.03 628.50,227.02 629.78,226.97 631.06,226.98 632.34,227.21 633.62,227.94 634.90,228.33 636.18,228.96 637.46,229.56 638.74,229.83 640.02,230.29 641.30,230.57 642.58,230.69 643.86,230.83 645.14,230.76 646.42,230.60 647.70,230.86 648.98,230.62 650.26,230.73 651.54,230.76 652.82,231.07 654.10,230.92 655.38,230.76 656.66,230.83 657.94,230.74 659.22,230.94 660.50,230.67 661.78,230.91 663.06,231.04 664.34,230.65 665.62,230.81 666.90,230.80"/><polyline stroke="#8e8e00" points="410.90,228.22 412.18,227.91 413.46,228.34 414.74,228.16 416.02,228.16 417.30,228.14 418.58,228.24 419.86,228.29 421.14,228.32 422.42,228.41 423.70,228.34 424.98,228.37 426.26,228.24 427.54,228.36 428.82,228.30 430.10,228.59 431.38,228.43 432.66,228.40 433.94,228.43 435.22,228.39 436.50,228.21 437.78,228.27 439.06,228.51 440.34,228.36 441.62,228.45 442.90,228.43 444.18,228.30 445.46,228.47 446.74,228.37 448.02,228.48 449.30,228.27 450.58,227.67 451.86,227.04 453.14,226.19 454.42,224.53 455.70,222.61 456.98,220.01 458.26,217.25 459.54,214.83 460.82,213.05 462.10,212.37 463.38,212.47 464.66,213.31 465.94,214.58 467.22,216.29 468.50,218.33 469.78,220.13 471.06,221.95 472.34,223.67 473.62,225.03 474.90,225.96 476.18,227.21 477.46,227.57 478.74,227.93 480.02,228.27 481.30,228.62 482.58,228.74 483.86,228.74 485.14,228.89 486.42,228.83 487.70,228.82 488.98,228.82 490.26,228.76 491.54,228.98 492.82,228.94 494.10,228.98 495.38,229.10 496.66,228.98 497.94,228.96 499.22,228.98 500.50,229.19 501.78,229.07 503.06,229.17 504.34,229.18 505.62,229.02 506.90,229.15 508.18,229.15 509.46,229.04 510.74,229.24 512.02,229.06 513.30,229.54 514.58,229.38 515.86,229.50 517.14,229.21 518.42,228.93 519.70,228.45 520.98,226.98 522.26,225.12 523.54,221.52 524.82,216.86 526.10,211.67 527.38,206.08 528.66,200.65 529.94,194.89 531.22,189.58 532.50,185.06 533.78,182.11 535.06,181.66 536.34,183.97 537.62,188.50 538.90,194.27 540.18,200.47 541.46,206.94 542.74,212.94 544.02,218.24 545.30,223.03 546.58,226.26 547.86,227.86 549.14,229.02 550.42,229.61 551.70,229.97 552.98,230.30 554.26,230.40 555.54,230.25 556.82,230.31 558.10,230.22 559.38,230.33 560.66,230.40 561.94,230.37 563.22,230.44 564.50,230.47 565.78,230.44 567.06,230.58 568.34,230.49 569.62,230.45 570.90,230.27 572.18,230.51 573.46,230.21 574.74,229.79 576.02,228.88 577.30,227.73 578.58,226.75 579.86,225.88 581.14,225.11 582.42,225.22 583.70,225.43 584.98,225.69 586.26,225.54 587.54,225.76 588.82,226.10 590.10,226.41 591.38,226.78 592.66,227.41 593.94,228.14 595.22,228.72 596.50,229.60 597.78,229.88 599.06,230.17 600.34,230.47 601.62,230.56 602.90,230.59 604.18,230.57 605.46,230.61 606.74,230.82 608.02,230.67 609.30,230.66 610.58,230.88 611.86,230.81 613.14,230.75 614.42,230.72 615.70,230.52 616.98,230.93 618.26,230.51 619.54,230.35 620.82,230.21 622.10,230.02 623.38,229.44 624.66,229.08 625.94,228.62 627.22,228.45 628.50,228.22 629.78,228.18 631.06,228.06 632.34,228.19 633.62,228.78 634.90,229.03 636.18,229.63 637.46,230.15 638.74,230.19 640.02,230.51 641.30,230.51 642.58,230.36 643.86,230.94 645.14,230.83 646.42,230.96 647.70,230.94 648.98,230.69 650.26,230.86 651.54,230.85 652.82,230.83 654.10,230.74 655.38,231.03 656.66,230.79 657.94,230.72 659.22,230.67 660.50,230.83 661.78,230.81 663.06,231.07 664.34,231.04 665.62,231.02 666.90,230.88"/><polyline stroke="#fb6501" points="410.90,229.18 412.18,229.34 413.46,229.09 414.74,229.47 416.02,229.15 417.30,229.17 418.58,229.31 419.86,229.29 421.14,229.47 422.42,229.38 423.70,229.59 424.98,229.52 426.26,229.46 427.54,229.78 428.82,229.47 430.10,229.54 431.38,229.53 432.66,229.62 433.94,229.41 435.22,229.65 436.50,229.76 437.78,229.37 439.06,229.82 440.34,229.64 441.62,229.62 442.90,229.47 444.18,229.49 445.46,229.84 446.74,229.62 448.02,229.75 449.30,229.55 450.58,229.44 451.86,229.12 453.14,228.58 454.42,227.47 455.70,226.64 456.98,225.19 458.26,223.77 459.54,222.56 460.82,221.46 462.10,221.18 463.38,221.16 464.66,221.70 465.94,222.29 467.22,223.21 468.50,224.35 469.78,225.31 471.06,226.26 472.34,227.16 473.62,228.11 474.90,228.77 476.18,229.18 477.46,229.65 478.74,229.71 480.02,229.98 481.30,230.00 482.58,230.12 483.86,230.29 485.14,230.21 486.42,230.02 487.70,230.27 488.98,230.32 490.26,230.22 491.54,230.24 492.82,230.63 494.10,230.42 495.38,230.45 496.66,230.69 497.94,230.36 499.22,230.49 500.50,230.65 501.78,230.41 503.06,230.52 504.34,230.53 505.62,230.66 506.90,230.61 508.18,230.38 509.46,230.61 510.74,230.56 512.02,230.77 513.30,230.46 514.58,230.50 515.86,230.41 517.14,230.60 518.42,230.34 519.70,230.20 520.98,229.23 522.26,227.98 523.54,226.07 524.82,223.46 526.10,220.61 527.38,217.62 528.66,214.69 529.94,211.38 531.22,208.56 532.50,205.61 533.78,204.17 535.06,204.22 536.34,205.56 537.62,207.92 538.90,211.07 540.18,214.54 541.46,217.93 542.74,221.27 544.02,224.48 545.30,226.96 546.58,228.83 547.86,229.76 549.14,230.41 550.42,230.66 551.70,231.14 552.98,231.04 554.26,230.96 555.54,231.08 556.82,230.93 558.10,231.02 559.38,231.11 560.66,230.98 561.94,230.95 563.22,230.85 564.50,230.96 565.78,230.99 567.06,231.06 568.34,231.03 569.62,231.13 570.90,231.47 572.18,231.12 573.46,231.07 574.74,230.56 576.02,230.26 577.30,229.50 578.58,229.34 579.86,228.59 581.14,228.06 582.42,228.25 583.70,228.10 584.98,228.45 586.26,228.36 587.54,228.33 588.82,228.88 590.10,229.00 591.38,229.25 592.66,229.39 593.94,229.90 595.22,230.23 596.50,230.56 597.78,230.80 599.06,230.95 600.34,231.27 601.62,231.36 602.90,231.27 604.18,231.29 605.46,231.44 606.74,231.29 608.02,231.31 609.30,231.21 610.58,231.15 611.86,231.52 613.14,231.46 614.42,231.28 615.70,231.48 616.98,231.30 618.26,231.46 619.54,231.13 620.82,231.01 622.10,230.89 623.38,230.72 624.66,230.41 625.94,230.10 627.22,230.10 628.50,229.92 629.78,229.96 631.06,230.07 632.34,230.18 633.62,230.50 634.90,230.56 636.18,230.81 637.46,231.29 638.74,231.45 640.02,231.32 641.30,231.39 642.58,231.73 643.86,231.64 645.14,231.87 646.42,231.82 647.70,231.86 648.98,231.77 650.26,231.93 651.54,231.88 652.82,231.91 654.10,231.82 655.38,231.91 656.66,231.97 657.94,231.91 659.22,231.96 660.50,232.11 661.78,232.23 663.06,232.02 664.34,232.12 665.62,231.93 666.90,232.01"/></g><g font-family="Liberation Sans, sans-serif" font-weight="bold" fill="#000"><text x="46.0" y="234.60" font-size="12.7" text-anchor="end">0</text><text x="46.0" y="187.40" font-size="12.7" text-anchor="end">200</text><text x="46.0" y="140.20" font-size="12.7" text-anchor="end">400</text><text x="46.0" y="93.00" font-size="12.7" text-anchor="end">600</text><text x="46.0" y="45.80" font-size="12.7" text-anchor="end">800</text><text x="109.12" y="247.9" font-size="12.7" text-anchor="middle">250</text><text x="178.27" y="247.9" font-size="12.7" text-anchor="middle">300</text><text x="247.42" y="247.9" font-size="12.7" text-anchor="middle">350</text><text x="316.57" y="247.9" font-size="12.7" text-anchor="middle">400</text><text x="184.8" y="270.3" font-size="13.9" text-anchor="middle">wavelength / nm</text><text transform="translate(12.1,120.9) rotate(-90)" font-size="14.0" text-anchor="middle">intensity / a.u.</text><text x="1.8" y="13.8" font-size="16.7">a)</text><text x="271.6" y="53.7" font-size="13">0 µg/mL</text><text x="271.6" y="205.7" font-size="13">30 µg/mL</text><text x="403.9" y="236.15" font-size="12.3" text-anchor="end">0</text><text x="403.9" y="194.91" font-size="12.3" text-anchor="end">200</text><text x="403.9" y="153.67" font-size="12.3" text-anchor="end">400</text><text x="403.9" y="112.43" font-size="12.3" text-anchor="end">600</text><text x="403.9" y="71.19" font-size="12.3" text-anchor="end">800</text><text x="403.9" y="29.95" font-size="12.3" text-anchor="end">1000</text><text x="410.90" y="248.8" font-size="12.3" text-anchor="middle">450</text><text x="474.90" y="248.8" font-size="12.3" text-anchor="middle">500</text><text x="538.90" y="248.8" font-size="12.3" text-anchor="middle">550</text><text x="602.90" y="248.8" font-size="12.3" text-anchor="middle">600</text><text x="666.90" y="248.8" font-size="12.3" text-anchor="middle">650</text><text x="539.0" y="270.3" font-size="13.6" text-anchor="middle">wavelength / nm</text><text transform="translate(369.3,116) rotate(-90)" font-size="13.6" text-anchor="middle">intensity / a.u.</text><text x="346.4" y="14.2" font-size="16.5">b)</text><text x="552.5" y="38.5" font-size="12.4">0 µg/mL</text><text x="552.6" y="206.0" font-size="12.4">30 µg/mL</text></g><line x1="289" y1="59.2" x2="289" y2="178" stroke="#000" stroke-width="1.9"/><polygon points="286,176.3 292.1,176.3 289.05,188" fill="#000"/><line x1="555.6" y1="42.9" x2="555.6" y2="187" stroke="#000" stroke-width="1.6"/><polygon points="553.6,185.8 557.7,185.8 555.65,193.6" fill="#000"/></svg>
</body></html>
